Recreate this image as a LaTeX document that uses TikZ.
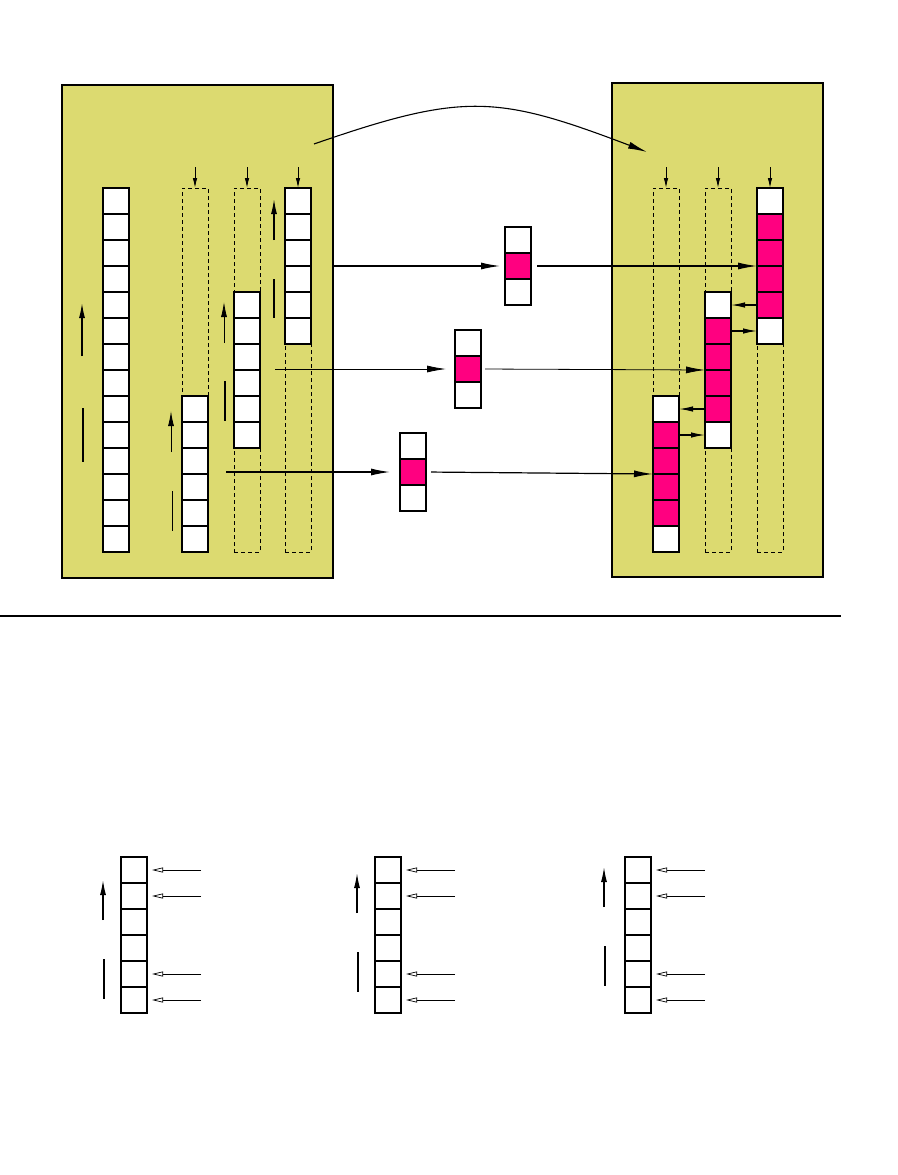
\documentclass[tikz,border=0pt]{standalone}
\usepackage{xcolor}
\usepackage{tikz}
\usetikzlibrary{
    arrows.meta,
    positioning
}
\definecolor{khaki}{RGB}{220,218,112}
\definecolor{hotpink}{RGB}{255,0,128}

\begin{document}
\begin{tikzpicture}[
x=1pt, y=-1pt,
panel/.style={
draw,
line width=1.3pt,
fill=khaki,
inner sep=0pt
},
cell/.style={
draw,
line width=1.1pt,
fill=white,
minimum size=26pt,
inner sep=0pt,
outer sep=0pt
},
slot/.style={
draw,
dash pattern=on 4pt off 3pt,
line width=0.6pt,
minimum width=26pt,
minimum height=364pt,
inner sep=0pt,
outer sep=0pt
},
big/.style={-{Latex[length=19pt,width=7pt]}, line width=1.2pt},
fine/.style={-{Latex[length=19pt,width=7pt]}, line width=0.8pt},
hop/.style={-{Latex[length=14pt,width=5.5pt]}, line width=1.2pt},
feed/.style={-{Latex[length=10pt,width=4.5pt]}, line width=0.9pt},
rise/.style={-{Latex[length=15pt,width=6pt]}},
hollow/.style={-{Triangle[open,length=11pt,width=5pt]}, line width=0.7pt}
]

\useasboundingbox (0,0) rectangle (897,1175);

\node[panel, minimum width=271pt, minimum height=493pt] (lbox)
at (197.5,331.5) {};

\node[panel, minimum width=211pt, minimum height=494pt] (rbox)
at (717.5,330) {};

\foreach \s/\x in {l1/195,l2/247,l3/298,r1/666,r2/718,r3/770}
\node[slot] (\s) at (\x,370) {};

\foreach \k in {1,...,14}
\node[cell] (l0-\k) at (116,175+26*\k) {};

\foreach \k in {1,...,6} {
\node[cell] (l1-\k) at (195,383+26*\k) {};
\node[cell] (l2-\k) at (247,279+26*\k) {};
\node[cell] (l3-\k) at (298,175+26*\k) {};
}

\foreach \k/\f in {1/white,2/hotpink,3/hotpink,4/hotpink,5/hotpink,6/white} {
\node[cell, fill=\f] (r1-\k) at (666,383+26*\k) {};
\node[cell, fill=\f] (r2-\k) at (718,279+26*\k) {};
\node[cell, fill=\f] (r3-\k) at (770,175+26*\k) {};
}

\foreach \k/\f in {1/white,2/hotpink,3/white} {
\node[cell, fill=\f] (m1-\k) at (518,214+26*\k) {};
\node[cell, fill=\f] (m2-\k) at (468,317+26*\k) {};
\node[cell, fill=\f] (m3-\k) at (413,420+26*\k) {};
}

\foreach \s/\x in {b1/134,b2/388,b3/638}
\foreach \k in {1,...,6}
\node[cell] (\s-\k) at (\x,844+26*\k) {};

\foreach \s in {l1,l2,l3,r1,r2,r3} {
\coordinate (\s-in) at ([yshift=21pt]\s.north);
\draw[feed] (\s-in) -- (\s.north);
}

\coordinate (src) at (314,144);
\coordinate (dst) at (647,152);
\draw[big, line width=1.1pt]
(src) .. controls (464,92) and (497,95) .. (dst);

\draw[big, shorten >=5pt]
(lbox.east |- m1-2.west) -- (m1-2.west);

\draw[big, shorten <=6pt]
(m1-2.east) -- (r3-3.south west);

\coordinate (s2) at (275,369);
\draw[fine, shorten >=9pt]
(s2) -- (m2-2.west);

\draw[fine, shorten <=4pt]
(m2-2.east) -- (r2-3.south west);

\coordinate (s3) at (226,472);
\draw[big, shorten >=10pt]
(s3) -- (m3-2.west);

\draw[big, shorten <=5pt]
(m3-2.east) -- (r1-3.south west);

\draw[hop] (r3-5.west) -- (r2-1.east);
\draw[hop] (r2-2.east) -- (r3-6.west);
\draw[hop] (r2-5.west) -- (r1-1.east);
\draw[hop] (r1-2.east) -- (r2-6.west);

\foreach \x/\a/\b/\w in {82/356/303/1.3, 171/452/411/1.0, 224/343/302/0.8,
274/240/199/1.3, 103/920/880/1.3, 357/913/873/1.3, 604/907/867/1.3}
\draw[rise, line width=\w pt] (\x,\a) -- (\x,\b);

\foreach \x/\a/\b/\w in {83/408/462/1.3, 172/491/531/0.7, 225/381/421/1.3,
274/279/318/1.3, 104/959/999/1.3, 358/952/992/1.3, 605/946/986/1.3}
\draw[line width=\w pt] (\x,\a) -- (\x,\b);

\coordinate (cutl) at (0,616);
\coordinate (cutr) at (841,616);
\draw[line width=1.4pt] (cutl) -- (cutr);

\foreach \s in {b1,b2,b3}
\foreach \k in {1,2,5,6}
\draw[hollow] ([xshift=54pt]\s-\k.east) -- ([xshift=5pt]\s-\k.east);

\end{tikzpicture}
\end{document}
